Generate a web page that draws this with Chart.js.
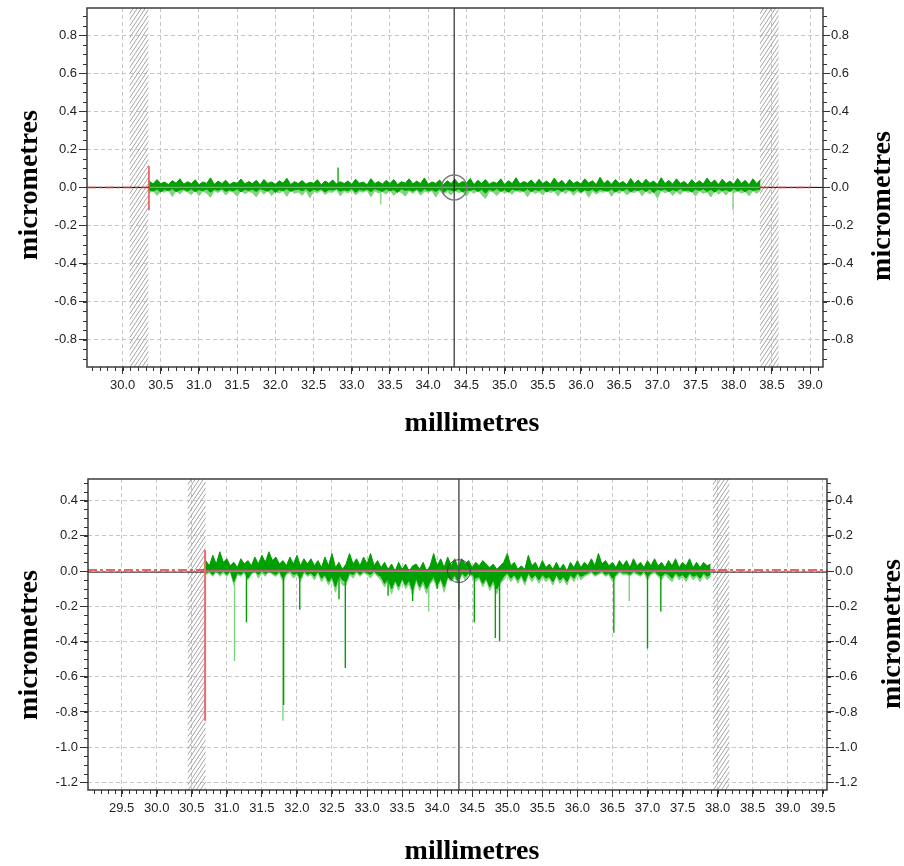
<!DOCTYPE html>
<html>
<head>
<meta charset="utf-8">
<script src="https://cdn.jsdelivr.net/npm/chart.js@4.4.1/dist/chart.umd.min.js"></script>
<style>
  html, body { margin: 0; padding: 0; background: #fff; }
  canvas { position: absolute; left: 0; }
  #top { top: 0; }
  #bot { top: 440px; }
</style>
</head>
<body>
<canvas id="top" width="904" height="440"></canvas>
<canvas id="bot" width="904" height="426"></canvas>
<script>
const X_TITLE = 'millimetres';
const Y_TITLE = 'micrometres';

// ---- top profile ----
const TOP_X_TICKS = [30.0, 30.5, 31.0, 31.5, 32.0, 32.5, 33.0, 33.5, 34.0, 34.5, 35.0, 35.5, 36.0, 36.5, 37.0, 37.5, 38.0, 38.5, 39.0];
const TOP_Y_TICKS = [-0.8, -0.6, -0.4, -0.2, 0.0, 0.2, 0.4, 0.6, 0.8];
const TOP_X_RANGE = [29.534, 39.168];
const TOP_Y_RANGE = [-0.943, 0.942];
const TOP_START = 30.35, TOP_STEP = 0.05, TOP_END = 38.34;
const TOP_RED_END = 39.05;
const TOP_EDGE_X = 30.345, TOP_EDGE_Y = [0.113, -0.12];
const TOP_CURSOR = 34.34;
const TOP_HATCH = [[30.09, 30.34], [38.34, 38.59]];
// band envelopes, one value per 0.05 mm
const TOP_UP = [
  0.032, 0.018, 0.041, 0.02, 0.028, 0.015, 0.036, 0.022, 0.045, 0.017,
  0.03, 0.02, 0.04, 0.014, 0.029, 0.021, 0.05, 0.016, 0.033, 0.02,
  0.038, 0.015, 0.027, 0.022, 0.044, 0.018, 0.031, 0.02, 0.037, 0.014,
  0.042, 0.021, 0.029, 0.016, 0.035, 0.022, 0.048, 0.015, 0.03, 0.02,
  0.036, 0.017, 0.027, 0.022, 0.04, 0.014, 0.033, 0.021, 0.039, 0.018,
  0.03, 0.02, 0.034, 0.016, 0.043, 0.022, 0.028, 0.014, 0.046, 0.02,
  0.031, 0.017, 0.037, 0.021, 0.041, 0.015, 0.03, 0.022, 0.045, 0.018,
  0.033, 0.02, 0.05, 0.016, 0.029, 0.021, 0.039, 0.014, 0.035, 0.02,
  0.043, 0.018, 0.031, 0.022, 0.047, 0.015, 0.037, 0.02, 0.041, 0.017,
  0.029, 0.021, 0.045, 0.014, 0.035, 0.02, 0.051, 0.018, 0.031, 0.022,
  0.039, 0.015, 0.043, 0.02, 0.033, 0.017, 0.049, 0.021, 0.037, 0.014,
  0.041, 0.02, 0.031, 0.018, 0.045, 0.022, 0.035, 0.015, 0.053, 0.02,
  0.037, 0.017, 0.041, 0.021, 0.031, 0.014, 0.047, 0.02, 0.039, 0.018,
  0.043, 0.022, 0.033, 0.015, 0.051, 0.02, 0.037, 0.017, 0.045, 0.021,
  0.031, 0.014, 0.041, 0.02, 0.035, 0.018, 0.049, 0.022, 0.039, 0.015,
  0.043, 0.02, 0.033, 0.017, 0.047, 0.021, 0.037, 0.014, 0.045, 0.02, 0.041
];
const TOP_DN = [
  -0.012, -0.02, -0.008, -0.024, -0.01, -0.018, -0.006, -0.022, -0.014, -0.009,
  -0.019, -0.007, -0.023, -0.011, -0.017, -0.008, -0.025, -0.01, -0.015, -0.006,
  -0.021, -0.012, -0.018, -0.007, -0.024, -0.01, -0.016, -0.009, -0.022, -0.006,
  -0.013, -0.02, -0.008, -0.026, -0.011, -0.017, -0.007, -0.021, -0.012, -0.009,
  -0.018, -0.006, -0.023, -0.01, -0.016, -0.008, -0.024, -0.011, -0.014, -0.007,
  -0.02, -0.012, -0.017, -0.006, -0.025, -0.01, -0.015, -0.009, -0.022, -0.007,
  -0.013, -0.021, -0.008, -0.018, -0.011, -0.027, -0.007, -0.016, -0.012, -0.02,
  -0.009, -0.023, -0.006, -0.017, -0.011, -0.021, -0.008, -0.026, -0.01, -0.014,
  -0.019, -0.007, -0.024, -0.012, -0.016, -0.008, -0.022, -0.01, -0.03, -0.009,
  -0.018, -0.006, -0.021, -0.011, -0.025, -0.008, -0.015, -0.012, -0.02, -0.007,
  -0.023, -0.01, -0.017, -0.006, -0.024, -0.011, -0.016, -0.009, -0.021, -0.008,
  -0.014, -0.02, -0.007, -0.026, -0.012, -0.018, -0.009, -0.022, -0.01, -0.015,
  -0.02, -0.008, -0.024, -0.011, -0.017, -0.006, -0.023, -0.012, -0.016, -0.009,
  -0.021, -0.007, -0.028, -0.01, -0.015, -0.008, -0.022, -0.011, -0.018, -0.006,
  -0.019, -0.012, -0.024, -0.009, -0.016, -0.007, -0.021, -0.01, -0.025, -0.008,
  -0.017, -0.011, -0.022, -0.006, -0.018, -0.01, -0.023, -0.008, -0.016, -0.012, -0.01
];
const TOP_RAW_DN = [
  -0.03, -0.015, -0.042, -0.02, -0.026, -0.012, -0.048, -0.018, -0.034, -0.016,
  -0.024, -0.038, -0.014, -0.044, -0.02, -0.03, -0.052, -0.017, -0.027, -0.013,
  -0.04, -0.019, -0.025, -0.046, -0.015, -0.033, -0.021, -0.028, -0.05, -0.016,
  -0.036, -0.014, -0.043, -0.022, -0.029, -0.018, -0.047, -0.013, -0.031, -0.024,
  -0.041, -0.016, -0.054, -0.02, -0.028, -0.015, -0.037, -0.023, -0.026, -0.012,
  -0.045, -0.019, -0.03, -0.014, -0.039, -0.021, -0.025, -0.016, -0.049, -0.018,
  -0.029, -0.022, -0.035, -0.015, -0.042, -0.02, -0.027, -0.046, -0.017, -0.032,
  -0.013, -0.041, -0.021, -0.026, -0.018, -0.051, -0.016, -0.034, -0.022, -0.039,
  -0.015, -0.028, -0.02, -0.047, -0.017, -0.031, -0.013, -0.037, -0.058, -0.02,
  -0.024, -0.043, -0.016, -0.03, -0.021, -0.036, -0.014, -0.026, -0.019, -0.049,
  -0.017, -0.032, -0.022, -0.04, -0.015, -0.027, -0.02, -0.045, -0.018, -0.033,
  -0.013, -0.041, -0.021, -0.029, -0.016, -0.052, -0.019, -0.035, -0.022, -0.025,
  -0.014, -0.047, -0.02, -0.031, -0.017, -0.039, -0.023, -0.027, -0.015, -0.044,
  -0.019, -0.034, -0.021, -0.056, -0.016, -0.029, -0.018, -0.042, -0.022, -0.037,
  -0.015, -0.026, -0.02, -0.046, -0.017, -0.032, -0.023, -0.05, -0.016, -0.035,
  -0.021, -0.04, -0.014, -0.028, -0.019, -0.03, -0.022, -0.044, -0.017, -0.031, -0.015
];
const TOP_SPIKE_X = [32.82], TOP_SPIKE_Y = [0.105];
const TOP_RAW_SPIKE_X = [33.38, 37.99], TOP_RAW_SPIKE_Y = [-0.09, -0.12];

// ---- bottom profile ----
const BOT_X_TICKS = [29.5, 30.0, 30.5, 31.0, 31.5, 32.0, 32.5, 33.0, 33.5, 34.0, 34.5, 35.0, 35.5, 36.0, 36.5, 37.0, 37.5, 38.0, 38.5, 39.0, 39.5];
const BOT_Y_TICKS = [-1.2, -1.0, -0.8, -0.6, -0.4, -0.2, 0.0, 0.2, 0.4];
const BOT_X_RANGE = [29.02, 39.56];
const BOT_Y_RANGE = [-1.243, 0.523];
const BOT_START = 30.70, BOT_STEP = 0.05, BOT_END = 37.93;
const BOT_EDGE_X = 30.69, BOT_EDGE_Y = [0.12, -0.85];
const BOT_CURSOR = 34.31;
const BOT_HATCH = [[30.44, 30.70], [37.93, 38.17]];
const BOT_UP = [
  0.06, 0.03, 0.09, 0.04, 0.11, 0.05, 0.07, 0.03, 0.05, 0.02,
  0.07, 0.04, 0.06, 0.03, 0.08, 0.04, 0.09, 0.05, 0.11, 0.06,
  0.08, 0.04, 0.06, 0.03, 0.08, 0.04, 0.09, 0.03, 0.07, 0.04,
  0.07, 0.03, 0.06, 0.02, 0.08, 0.03, 0.1, 0.02, 0.05, 0.01,
  0.04, 0.1, 0.04, 0.07, 0.03, 0.08, 0.04, 0.1, 0.03, 0.06,
  0.02, 0.05, 0.01, 0.04, 0.0, 0.05, 0.01, 0.04, 0.0, 0.03,
  0.04, 0.01, 0.05, 0.0, 0.03, 0.1, 0.03, 0.07, 0.02, 0.08,
  0.03, 0.07, 0.02, 0.07, 0.04, 0.06, 0.02, 0.05, 0.03, 0.06,
  0.04, 0.02, 0.04, 0.01, 0.03, 0.05, 0.1, 0.03, 0.05, 0.01,
  0.03, 0.01, 0.09, 0.03, 0.05, 0.01, 0.06, 0.02, 0.04, 0.01,
  0.05, 0.01, 0.04, 0.0, 0.05, 0.02, 0.06, 0.02, 0.05, 0.03,
  0.07, 0.03, 0.1, 0.04, 0.06, 0.03, 0.05, 0.02, 0.06, 0.03,
  0.06, 0.02, 0.07, 0.03, 0.05, 0.02, 0.06, 0.03, 0.07, 0.03,
  0.05, 0.02, 0.06, 0.03, 0.07, 0.02, 0.05, 0.03, 0.07, 0.02,
  0.05, 0.02, 0.05, 0.03, 0.04
];
const BOT_DN = [
  -0.01, 0.0, -0.02, 0.0, -0.015, 0.0, -0.02, 0.0, -0.06, -0.01,
  -0.02, 0.0, -0.04, -0.01, 0.0, -0.02, 0.0, -0.015, 0.0, -0.01,
  -0.02, 0.0, -0.04, -0.01, 0.0, -0.02, -0.01, -0.04, 0.0, -0.02,
  -0.01, -0.03, 0.0, -0.04, -0.02, -0.06, -0.03, -0.09, -0.02, -0.05,
  -0.06, -0.01, -0.02, 0.0, -0.02, 0.0, -0.01, -0.02, 0.0, -0.02,
  -0.03, -0.07, -0.04, -0.1, -0.05, -0.09, -0.04, -0.08, -0.05, -0.11,
  -0.04, -0.09, -0.05, -0.1, -0.06, -0.03, -0.08, -0.04, -0.09, -0.03,
  -0.05, -0.02, -0.06, -0.01, -0.03, -0.01, -0.02, -0.04, -0.03, -0.07,
  -0.04, -0.09, -0.05, -0.1, -0.06, -0.03, -0.01, -0.04, -0.02, -0.05,
  -0.02, -0.06, -0.01, -0.04, -0.02, -0.05, -0.02, -0.04, -0.03, -0.06,
  -0.02, -0.05, -0.03, -0.06, -0.02, -0.04, -0.01, -0.03, -0.02, -0.01,
  0.0, -0.02, -0.01, 0.0, -0.02, -0.01, -0.04, -0.02, 0.0, -0.01,
  -0.01, -0.02, 0.0, -0.01, -0.02, 0.0, -0.03, -0.01, 0.0, -0.02,
  -0.03, -0.01, -0.02, -0.04, -0.01, -0.03, -0.02, -0.04, -0.01, -0.03,
  -0.02, -0.04, -0.01, -0.03, -0.02
];
const BOT_RAW_DN = [
  -0.02, -0.01, -0.03, 0.0, -0.03, -0.01, -0.03, 0.0, -0.08, -0.02,
  -0.03, -0.01, -0.05, -0.02, 0.0, -0.04, -0.01, -0.03, 0.0, -0.02,
  -0.03, -0.01, -0.06, -0.02, -0.01, -0.04, -0.02, -0.06, -0.01, -0.03,
  -0.02, -0.05, -0.01, -0.06, -0.03, -0.08, -0.04, -0.12, -0.03, -0.08,
  -0.08, -0.02, -0.04, -0.01, -0.03, -0.01, -0.02, -0.04, -0.01, -0.03,
  -0.05, -0.09, -0.05, -0.13, -0.06, -0.11, -0.05, -0.1, -0.07, -0.14,
  -0.05, -0.11, -0.07, -0.13, -0.07, -0.05, -0.1, -0.05, -0.12, -0.04,
  -0.06, -0.04, -0.07, -0.02, -0.05, -0.02, -0.03, -0.06, -0.04, -0.09,
  -0.05, -0.11, -0.07, -0.13, -0.07, -0.05, -0.02, -0.06, -0.03, -0.07,
  -0.03, -0.08, -0.02, -0.06, -0.03, -0.07, -0.03, -0.06, -0.04, -0.08,
  -0.03, -0.07, -0.04, -0.08, -0.03, -0.06, -0.02, -0.05, -0.03, -0.02,
  -0.01, -0.03, -0.02, -0.01, -0.03, -0.02, -0.06, -0.03, -0.01, -0.02,
  -0.02, -0.03, -0.01, -0.02, -0.03, -0.01, -0.05, -0.02, -0.01, -0.03,
  -0.05, -0.02, -0.04, -0.06, -0.02, -0.05, -0.03, -0.06, -0.02, -0.05,
  -0.03, -0.06, -0.02, -0.05, -0.03
];
const BOT_SPIKE_X = [31.28, 31.81, 32.04, 32.60, 32.69, 33.30, 33.65, 34.00, 34.31, 34.53, 34.83, 34.89, 36.52, 37.00, 37.19];
const BOT_SPIKE_Y = [-0.29, -0.76, -0.22, -0.16, -0.55, -0.14, -0.17, -0.10, -0.22, -0.29, -0.38, -0.40, -0.35, -0.44, -0.23];
const BOT_RAW_SPIKE_X = [31.11, 31.80, 33.88, 36.74];
const BOT_RAW_SPIKE_Y = [-0.51, -0.85, -0.23, -0.17];

const FONT = '"Liberation Sans", Arial, sans-serif';
const DARK = '#00a000', LIGHT = '#7fd47f';
const pts = (start, step, ys) => ys.map((y, i) => ({ x: +(start + i * step).toFixed(3), y }));
const seg = (a, b) => [{ x: a[0], y: a[1] }, { x: b[0], y: b[1] }];
const spikes = (xs, ys) => xs.flatMap((x, i) => [{ x, y: 0 }, { x, y: ys[i] }, { x, y: null }]);

// hatched masks, frame, minor ticks and axis titles
const decor = {
  id: 'decor',
  beforeDatasetsDraw(chart, args, o) {
    const { ctx, chartArea: a, scales: { x } } = chart;
    ctx.save();
    ctx.strokeStyle = '#a4a4a4';
    ctx.lineWidth = 1;
    for (const [x0, x1] of o.hatch) {
      const p0 = x.getPixelForValue(x0), p1 = x.getPixelForValue(x1);
      const rise = (p1 - p0) * 1.5;
      ctx.save();
      ctx.beginPath();
      ctx.rect(p0, a.top, p1 - p0, a.bottom - a.top);
      ctx.clip();
      ctx.beginPath();
      for (let yy = a.top; yy < a.bottom + rise; yy += 6) {
        ctx.moveTo(p0, yy);
        ctx.lineTo(p1, yy - rise);
      }
      ctx.stroke();
      ctx.restore();
    }
    ctx.restore();
  },
  afterDatasetsDraw(chart, args, o) {
    const { ctx, chartArea: a, scales: { x, y } } = chart;
    ctx.save();
    ctx.strokeStyle = '#3c3c3c';
    ctx.lineWidth = 1.5;
    ctx.strokeRect(a.left, a.top, a.right - a.left, a.bottom - a.top);

    ctx.lineWidth = 1;
    ctx.strokeStyle = '#333';
    ctx.beginPath();
    for (let k = Math.ceil(x.min / o.xMinor); k * o.xMinor <= x.max; k++) {
      const px = Math.round(x.getPixelForValue(k * o.xMinor)) + 0.5;
      ctx.moveTo(px, a.bottom);
      ctx.lineTo(px, a.bottom + 4);
    }
    for (let k = Math.ceil(y.min / o.yMinor); k * o.yMinor <= y.max; k++) {
      const py = Math.round(y.getPixelForValue(k * o.yMinor)) + 0.5;
      ctx.moveTo(a.left, py);
      ctx.lineTo(a.left - 4, py);
      ctx.moveTo(a.right, py);
      ctx.lineTo(a.right + 4, py);
    }
    ctx.stroke();

    ctx.fillStyle = '#000';
    ctx.font = 'bold 28px "Liberation Serif", "Times New Roman", serif';
    ctx.textAlign = 'center';
    ctx.textBaseline = 'middle';
    ctx.fillText(X_TITLE, o.xTitle[0], o.xTitle[1]);
    for (const [tx, ty] of o.yTitles) {
      ctx.save();
      ctx.translate(tx, ty);
      ctx.rotate(-Math.PI / 2);
      ctx.fillText(Y_TITLE, 0, 0);
      ctx.restore();
    }
    ctx.restore();
  }
};

function scaleX(range, ticks, h) {
  return {
    type: 'linear', min: range[0], max: range[1],
    afterBuildTicks: s => { s.ticks = ticks.map(v => ({ value: v })); },
    afterFit: s => { s.height = h; s.paddingLeft = 0; s.paddingRight = 0; },
    ticks: { callback: v => v.toFixed(1), color: '#222', font: { family: FONT, size: 13 }, padding: 4, maxRotation: 0, autoSkip: false },
    grid: { color: '#c6c6c6', lineWidth: 1, tickLength: 7, tickColor: '#333', tickWidth: 1 },
    border: { display: false, dash: [4, 3] }
  };
}

function scaleY(range, ticks, pos, w) {
  return {
    type: 'linear', position: pos, min: range[0], max: range[1],
    afterBuildTicks: s => { s.ticks = ticks.map(v => ({ value: v })); },
    afterFit: s => { s.width = w; s.paddingTop = 0; s.paddingBottom = 0; },
    ticks: { callback: v => v.toFixed(1), color: '#222', font: { family: FONT, size: 13 }, padding: pos === 'left' ? 2 : 1, autoSkip: false },
    grid: { color: '#c6c6c6', lineWidth: 1, tickLength: pos === 'left' ? 8 : 7, tickColor: '#333', tickWidth: 1, drawOnChartArea: pos === 'left' },
    border: { display: false, dash: [4, 3] }
  };
}

const line = (data, color, width, order, extra) =>
  Object.assign({ data, borderColor: color, borderWidth: width, pointRadius: 0, order, fill: false, tension: 0 }, extra || {});
const band = (data, color, order) =>
  line(data, color, 1, order, { fill: 'origin', backgroundColor: color });

function makeChart(id, c) {
  return new Chart(document.getElementById(id), {
    type: 'line',
    data: { datasets: c.datasets },
    options: {
      responsive: false, animation: false, events: [],
      layout: { autoPadding: false, padding: { top: c.top, left: 0, right: 0, bottom: 0 } },
      plugins: { legend: { display: false }, tooltip: { enabled: false }, decor: c.decor },
      scales: {
        x: scaleX(c.xRange, c.xTicks, c.xH),
        y: scaleY(c.yRange, c.yTicks, 'left', c.yW),
        y2: scaleY(c.yRange, c.yTicks, 'right', c.y2W)
      }
    },
    plugins: [decor]
  });
}

makeChart('top', {
  top: 8, xH: 73, yW: 87, y2W: 81,
  xRange: TOP_X_RANGE, yRange: TOP_Y_RANGE, xTicks: TOP_X_TICKS, yTicks: TOP_Y_TICKS,
  decor: { hatch: TOP_HATCH, xMinor: 0.1, yMinor: 0.05, xTitle: [472, 424], yTitles: [[30, 185], [883, 206]] },
  datasets: [
    line([{ x: TOP_CURSOR, y: 0 }], '#7a7a7a', 1.5, 0, { showLine: false, pointRadius: 12.5, pointBorderWidth: 1.5, pointBorderColor: '#7a7a7a', pointBackgroundColor: 'rgba(0,0,0,0)' }),
    line(seg([TOP_CURSOR, TOP_Y_RANGE[0]], [TOP_CURSOR, TOP_Y_RANGE[1]]), '#000', 1, 1),
    line(seg([TOP_EDGE_X, TOP_EDGE_Y[0]], [TOP_EDGE_X, TOP_EDGE_Y[1]]), '#e02020', 1.2, 2),
    line(seg([TOP_START, 0], [TOP_END, 0]), '#d46cd8', 1.3, 3),
    line([{ x: TOP_X_RANGE[0], y: 0 }, { x: TOP_START, y: 0 }, { x: 34, y: null }, { x: TOP_END, y: 0 }, { x: TOP_RED_END, y: 0 }], '#e02020', 1.5, 4, { borderDash: [9, 3, 3, 3] }),
    line(spikes(TOP_SPIKE_X, TOP_SPIKE_Y), DARK, 1.3, 5),
    band(pts(TOP_START, TOP_STEP, TOP_UP), DARK, 6),
    band(pts(TOP_START, TOP_STEP, TOP_DN), DARK, 7),
    line(spikes(TOP_RAW_SPIKE_X, TOP_RAW_SPIKE_Y), LIGHT, 1.3, 8),
    band(pts(TOP_START, TOP_STEP, TOP_RAW_DN), LIGHT, 9),
    line(seg([TOP_X_RANGE[0], 0], [TOP_X_RANGE[1], 0]), '#000', 1, 10)
  ]
});

makeChart('bot', {
  top: 39, xH: 76, yW: 88, y2W: 77,
  xRange: BOT_X_RANGE, yRange: BOT_Y_RANGE, xTicks: BOT_X_TICKS, yTicks: BOT_Y_TICKS,
  decor: { hatch: BOT_HATCH, xMinor: 0.1, yMinor: 0.05, xTitle: [472, 412], yTitles: [[30, 205], [893, 194]] },
  datasets: [
    line([{ x: BOT_CURSOR, y: 0 }], '#444', 1, 0, { showLine: false, pointRadius: 11.5, pointBorderWidth: 1, pointBorderColor: '#444', pointBackgroundColor: 'rgba(0,0,0,0)' }),
    line(seg([BOT_CURSOR, BOT_Y_RANGE[0]], [BOT_CURSOR, BOT_Y_RANGE[1]]), '#555', 1.5, 1),
    line(seg([BOT_EDGE_X, BOT_EDGE_Y[0]], [BOT_EDGE_X, BOT_EDGE_Y[1]]), '#f06a6a', 2, 2),
    line(seg([BOT_START, 0], [BOT_END, 0]), '#d46cd8', 1.2, 3),
    line(seg([BOT_START, 0.006], [BOT_END, 0.006]), '#e83030', 1.5, 4),
    line(spikes(BOT_SPIKE_X, BOT_SPIKE_Y), DARK, 1.4, 5),
    band(pts(BOT_START, BOT_STEP, BOT_UP), DARK, 6),
    band(pts(BOT_START, BOT_STEP, BOT_DN), DARK, 7),
    line(spikes(BOT_RAW_SPIKE_X, BOT_RAW_SPIKE_Y), LIGHT, 1.4, 8),
    band(pts(BOT_START, BOT_STEP, BOT_RAW_DN), LIGHT, 9),
    line(seg([BOT_X_RANGE[0], 0.006], [BOT_X_RANGE[1], 0.006]), '#e83030', 1.5, 10, { borderDash: [9, 3, 3, 3] }),
    line(seg([BOT_X_RANGE[0], -0.006], [BOT_X_RANGE[1], -0.006]), '#222', 1, 11)
  ]
});
</script>
</body>
</html>
